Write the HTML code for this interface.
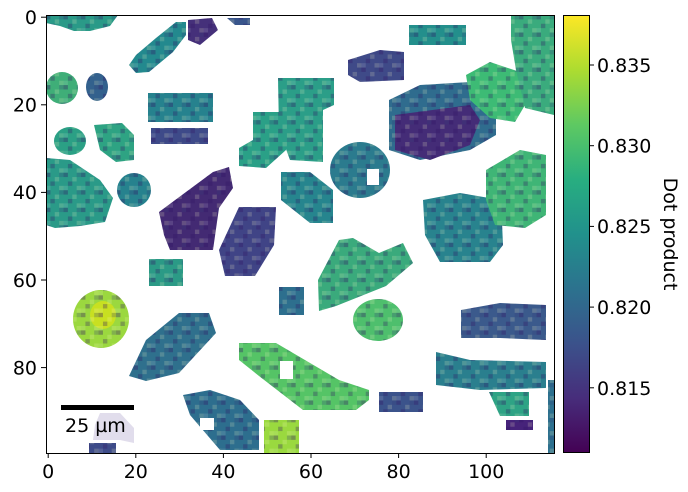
<!DOCTYPE html>
<html><head><meta charset="utf-8"><style>
html,body{margin:0;padding:0;background:#fff;}
svg{display:block;font-family:"DejaVu Sans","Liberation Sans",sans-serif;}
</style></head><body>
<svg width="688" height="492" viewBox="0 0 688 492" xmlns="http://www.w3.org/2000/svg">
<defs>
<linearGradient id="vir" x1="0" y1="1" x2="0" y2="0">
<stop offset="0" stop-color="#440154"/><stop offset="0.125" stop-color="#472d7b"/>
<stop offset="0.25" stop-color="#3b528b"/><stop offset="0.375" stop-color="#2c728e"/>
<stop offset="0.5" stop-color="#21918c"/><stop offset="0.625" stop-color="#28ae80"/>
<stop offset="0.75" stop-color="#5ec962"/><stop offset="0.875" stop-color="#addc30"/>
<stop offset="1" stop-color="#fde725"/></linearGradient>
<pattern id="tex" x="46" y="15" width="17.52" height="17.52" patternUnits="userSpaceOnUse">
<rect x="0" y="0" width="4.38" height="4.38" fill="rgba(50,20,100,0.35)"/>
<rect x="8.76" y="4.38" width="4.38" height="4.38" fill="rgba(255,255,200,0.18)"/>
<rect x="4.38" y="8.76" width="4.38" height="4.38" fill="rgba(50,20,100,0.3)"/>
<rect x="13.14" y="13.14" width="4.38" height="4.38" fill="rgba(255,255,200,0.18)"/>
<rect x="13.14" y="0" width="4.38" height="4.38" fill="rgba(50,60,120,0.25)"/>
<rect x="0" y="13.14" width="4.38" height="4.38" fill="rgba(255,255,255,0.12)"/>
</pattern>
<clipPath id="ax"><rect x="46" y="15" width="508" height="438"/></clipPath>
<mask id="m" style="mask-type:alpha" maskUnits="userSpaceOnUse" x="0" y="0" width="688" height="492"><use href="#blobs"/></mask>
</defs>
<g clip-path="url(#ax)">
<g id="blobs">
<polygon fill="#2a9a88" points="46,15 118,15 110,26 90,31 74,31 60,26 46,23"/>
<polygon fill="#23898e" points="129,65 136,73 149,72 173,52 186,35 186,22 176,22 156,38 136,55"/>
<polygon fill="#45307a" points="188,20 212,18 218,30 200,45 188,40"/>
<polygon fill="#39568c" points="227,18 250,18 250,25 235,25"/>
<ellipse fill="#3fae78" cx="62" cy="88" rx="16" ry="16"/>
<ellipse fill="#33618d" cx="97" cy="87" rx="11" ry="14"/>
<rect fill="#26828e" x="148" y="93" width="65" height="29"/>
<rect fill="#3e4a89" x="151" y="128" width="57" height="16"/>
<ellipse fill="#2ba085" cx="70" cy="141" rx="16" ry="14"/>
<polygon fill="#2ea383" points="94,125 122,123 134,135 134,160 116,162 100,150"/>
<polygon fill="#2a9a88" points="46,158 70,160 100,180 113,198 105,222 80,226 55,228 46,225"/>
<ellipse fill="#26828e" cx="134" cy="190" rx="17" ry="17"/>
<polygon fill="#432a73" points="164,235 159,212 186,192 213,172 229,167 233,188 219,208 213,250 170,250"/>
<polygon fill="#2aa087" points="253,112 286,112 286,150 266,168 239,166 239,148 253,140"/>
<polygon fill="#2b9e88" points="278,78 334,78 334,105 323,110 323,162 290,160 279,130"/>
<polygon fill="#3f4a88" points="348,60 380,50 404,52 404,80 360,82 348,75"/>
<rect fill="#238f8c" x="409" y="25" width="57" height="20"/>
<polygon fill="#2f6c8e" points="389,100 420,85 470,82 496,95 496,135 470,150 420,160 389,150"/>
<polygon fill="#442c77" points="395,115 470,105 480,120 470,145 430,160 395,150"/>
<polygon fill="#3dbb75" points="466,75 490,62 520,72 528,100 515,122 490,118 470,100"/>
<polygon fill="#3aab7d" points="511,15 554,15 554,115 525,108 516,70 511,40"/>
<ellipse fill="#2b7b8e" cx="360" cy="170" rx="30" ry="28"/>
<polygon fill="#26858e" points="281,172 310,172 333,190 333,223 310,223 281,200"/>
<polygon fill="#404486" points="239,207 276,207 274,245 255,276 225,276 219,250"/>
<polygon fill="#28838e" points="423,200 460,193 501,200 503,245 490,262 440,262 425,235"/>
<polygon fill="#3fb576" points="486,170 520,150 546,155 546,215 525,228 495,225 486,200"/>
<rect fill="#2b9a86" x="149" y="259" width="34" height="27"/>
<polygon fill="#3aaa7c" points="319,311 318,280 339,240 353,238 379,253 403,243 413,263 386,286 336,306"/>
<ellipse fill="#4ebf6d" cx="378" cy="320" rx="25" ry="21"/>
<rect fill="#2d6f8e" x="279" y="287" width="25" height="28"/>
<ellipse fill="#9bd83f" cx="101" cy="319" rx="28" ry="29"/>
<ellipse fill="#c8e021" cx="103" cy="315" rx="13" ry="14"/>
<polygon fill="#2f708d" points="129,376 146,340 179,313 209,313 216,333 179,373 146,381"/>
<polygon fill="#55c466" points="239,343 276,343 339,380 369,390 369,400 356,410 303,410 259,376 239,360"/>
<polygon fill="#3b5a8c" points="461,310 500,303 546,305 546,340 500,338 461,338"/>
<polygon fill="#2a7f8e" points="436,352 470,360 546,362 546,388 480,390 436,385"/>
<polygon fill="#2ea385" points="489,392 529,392 529,416 500,416"/>
<polygon fill="#2d6e8e" points="183,395 210,390 240,400 259,420 259,450 220,450 190,415"/>
<rect fill="#9ad93f" x="264" y="420" width="35" height="33"/>
<rect fill="#3b538b" x="379" y="392" width="44" height="20"/>
<rect fill="#46237a" x="506" y="420" width="27" height="10"/>
<rect fill="#3e4c89" x="89" y="443" width="27" height="10"/>
<rect fill="#2d708e" x="548" y="380" width="6" height="73"/>
</g>
</g>
<rect x="46" y="15" width="508" height="438" fill="url(#tex)" mask="url(#m)"/>
<rect x="280" y="361" width="13" height="18" fill="#fff"/>
<rect x="367" y="169" width="12" height="16" fill="#fff"/>
<rect x="200" y="418" width="14" height="12" fill="#fff"/>
<polygon points="100,413 120,413 134,428 134,443 120,440 93,440 95,425" fill="rgba(120,100,170,0.22)"/>
<rect x="61" y="405" width="73" height="5" fill="#000"/>
<text x="65" y="432" font-size="19" fill="#000">25 µm</text>
<rect x="46.5" y="15.5" width="508" height="438" fill="none" stroke="#000" stroke-width="1"/>
<g stroke="#000" stroke-width="1">
<line x1="48.2" y1="453" x2="48.2" y2="458"/><line x1="135.8" y1="453" x2="135.8" y2="458"/>
<line x1="223.4" y1="453" x2="223.4" y2="458"/><line x1="311" y1="453" x2="311" y2="458"/>
<line x1="398.6" y1="453" x2="398.6" y2="458"/><line x1="486.2" y1="453" x2="486.2" y2="458"/>
<line x1="41" y1="17.2" x2="46" y2="17.2"/><line x1="41" y1="104.8" x2="46" y2="104.8"/>
<line x1="41" y1="192.4" x2="46" y2="192.4"/><line x1="41" y1="280" x2="46" y2="280"/>
<line x1="41" y1="367.6" x2="46" y2="367.6"/>
</g>
<g font-size="19" fill="#000" text-anchor="middle">
<text x="48.2" y="478">0</text><text x="135.8" y="478">20</text><text x="223.4" y="478">40</text>
<text x="311" y="478">60</text><text x="398.6" y="478">80</text><text x="486.2" y="478">100</text>
</g>
<g font-size="19" fill="#000" text-anchor="end">
<text x="37" y="24">0</text><text x="37" y="111.5">20</text><text x="37" y="199">40</text>
<text x="37" y="287">60</text><text x="37" y="374.5">80</text>
</g>
<rect x="563" y="15" width="26" height="438" fill="url(#vir)"/>
<rect x="563.5" y="15.5" width="26" height="437" fill="none" stroke="#000" stroke-width="1"/>
<g stroke="#000" stroke-width="1">
<line x1="589" y1="65" x2="594" y2="65"/><line x1="589" y1="145.7" x2="594" y2="145.7"/>
<line x1="589" y1="226.4" x2="594" y2="226.4"/><line x1="589" y1="307.1" x2="594" y2="307.1"/>
<line x1="589" y1="387.8" x2="594" y2="387.8"/>
</g>
<g font-size="19" fill="#000">
<text x="597" y="72">0.835</text><text x="597" y="152.5">0.830</text><text x="597" y="233">0.825</text>
<text x="597" y="314">0.820</text><text x="597" y="395">0.815</text>
</g>
<text x="664" y="234" font-size="19" fill="#000" text-anchor="middle" transform="rotate(90 664 234)">Dot product</text>
</svg>
</body></html>
